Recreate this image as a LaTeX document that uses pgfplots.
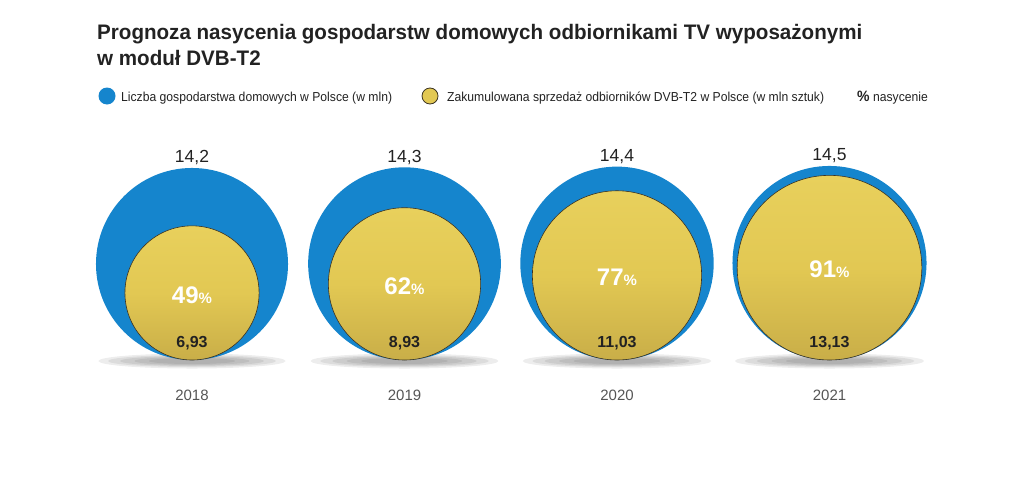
\documentclass[border=0pt]{standalone}
\usepackage{fontspec}
\setmainfont{Liberation Sans}
\newfontfamily\condA{Liberation Sans}[FakeStretch=0.98]
\newfontfamily\condB{Liberation Sans}[FakeStretch=0.935]
\usepackage{pgfplots}
\usepackage{pgfplotstable}
\pgfplotsset{compat=1.18}
\usetikzlibrary{shapes.geometric}
\definecolor{blueC}{HTML}{1585CD}
\definecolor{yelT}{HTML}{E8D05C}
\definecolor{yelB}{HTML}{C9AE48}
\definecolor{yelL}{HTML}{E2C853}
\definecolor{strokeC}{HTML}{3A3222}
\definecolor{txt}{HTML}{222222}
\definecolor{yr}{HTML}{555555}

\pgfplotstableread{
x year hh sales pct hhlab saleslab
0 2018 14.2 6.93 49 14,2 6,93
1 2019 14.3 8.93 62 14,3 8,93
2 2020 14.4 11.03 77 14,4 11,03
3 2021 14.5 13.13 91 14,5 13,13
}\data

\pgfplotsset{
  shadowlayer/.style 2 args={only marks, mark=none, point meta=explicit symbolic,
    visualization depends on={25.48*sqrt(\thisrow{hh}) \as \myrad},
    nodes near coords={},
    nodes near coords style={anchor=center, ellipse, inner sep=0pt,
      minimum width={#1*\myrad pt}, minimum height=#2pt, fill=black, fill opacity=0.07}},
}

\begin{document}
\begin{tikzpicture}
\begin{axis}[
  name=ax,
  width=1024pt, height=488pt, scale only axis,
  xmin=-0.90353, xmax=3.91529, ymin=-128, ymax=360,
  hide axis, clip=false,
]
% shadows (stacked translucent ellipses)
\addplot[shadowlayer={1.95}{15}] table[x=x, y expr=-1, meta=year] \data;
\addplot[shadowlayer={1.75}{12}] table[x=x, y expr=-1, meta=year] \data;
\addplot[shadowlayer={1.5}{10}] table[x=x, y expr=-1, meta=year] \data;
\addplot[shadowlayer={1.2}{8}] table[x=x, y expr=-1, meta=year] \data;
\addplot[shadowlayer={0.9}{6}] table[x=x, y expr=-1, meta=year] \data;
% households (blue)
\addplot[only marks, mark=none, point meta=explicit symbolic,
  visualization depends on={25.48*sqrt(\thisrow{hh}) \as \myrad},
  nodes near coords={},
  nodes near coords style={anchor=center, circle, inner sep=0pt,
    minimum size={2*\myrad pt}, fill=blueC}]
  table[x=x, y expr={25.48*sqrt(\thisrow{hh})}, meta=year] \data;
% sales (yellow)
\addplot[only marks, mark=none, point meta=explicit symbolic,
  visualization depends on={25.48*sqrt(\thisrow{sales}) \as \myrad},
  nodes near coords={},
  nodes near coords style={anchor=center, circle, inner sep=0pt,
    minimum size={2*\myrad pt}, top color=yelT, bottom color=yelB, middle color=yelL,
    draw=strokeC, line width=0.6pt}]
  table[x=x, y expr={25.48*sqrt(\thisrow{sales})}, meta=year] \data;
% household labels
\addplot[only marks, mark=none,
  point meta=explicit symbolic, nodes near coords,
  nodes near coords style={anchor=center, text=txt, font=\fontsize{17.5}{18}\selectfont}]
  table[x=x, y expr={2*25.48*sqrt(\thisrow{hh})+10}, meta=hhlab] \data;
% percent labels
\addplot[only marks, mark=none,
  point meta=explicit symbolic,
  nodes near coords={\pgfplotspointmeta{\fontsize{15}{15}\selectfont\%}},
  nodes near coords style={anchor=center, text=white, font=\fontsize{24}{24}\selectfont\bfseries}]
  table[x=x, y expr={25.48*sqrt(\thisrow{sales})-2}, meta=pct] \data;
% sales labels
\addplot[only marks, mark=none,
  point meta=explicit symbolic, nodes near coords,
  nodes near coords style={anchor=center, text=txt, font=\fontsize{16}{16}\selectfont\bfseries}]
  table[x=x, y expr=17, meta=saleslab] \data;
% years
\addplot[only marks, mark=none,
  point meta=explicit symbolic, nodes near coords,
  nodes near coords style={anchor=center, text=yr, font=\fontsize{15}{15}\selectfont}]
  table[x=x, y expr=-35, meta=year] \data;
\end{axis}
\path (ax.south west) rectangle (ax.north east);
\begin{scope}[shift={(ax.north west)}, x=1pt, y=-1pt]
  \node[anchor=base west, inner sep=0pt, text=txt, font=\condA\fontsize{21}{24}\selectfont\bfseries] at (97,40) {Prognoza nasycenia gospodarstw domowych odbiornikami TV wyposażonymi};
  \node[anchor=base west, inner sep=0pt, text=txt, font=\condA\fontsize{21}{24}\selectfont\bfseries] at (97,66) {w moduł DVB-T2};
  \fill[blueC] (107,96) circle[radius=8.5];
  \node[anchor=base west, inner sep=0pt, text=txt, font=\condB\fontsize{13}{15}\selectfont] at (121,101) {Liczba gospodarstwa domowych w Polsce (w mln)};
  \filldraw[fill=yelL, draw=strokeC, line width=0.8pt] (430,96) circle[radius=8];
  \node[anchor=base west, inner sep=0pt, text=txt, font=\condB\fontsize{13}{15}\selectfont] at (447,101) {Zakumulowana sprzedaż odbiorników DVB-T2 w Polsce (w mln sztuk)};
  \node[anchor=base west, inner sep=0pt, text=txt, font=\condB\fontsize{13}{15}\selectfont] at (857,101) {{\bfseries\fontsize{15}{15}\selectfont\%} nasycenie};
\end{scope}
\end{tikzpicture}
\end{document}
